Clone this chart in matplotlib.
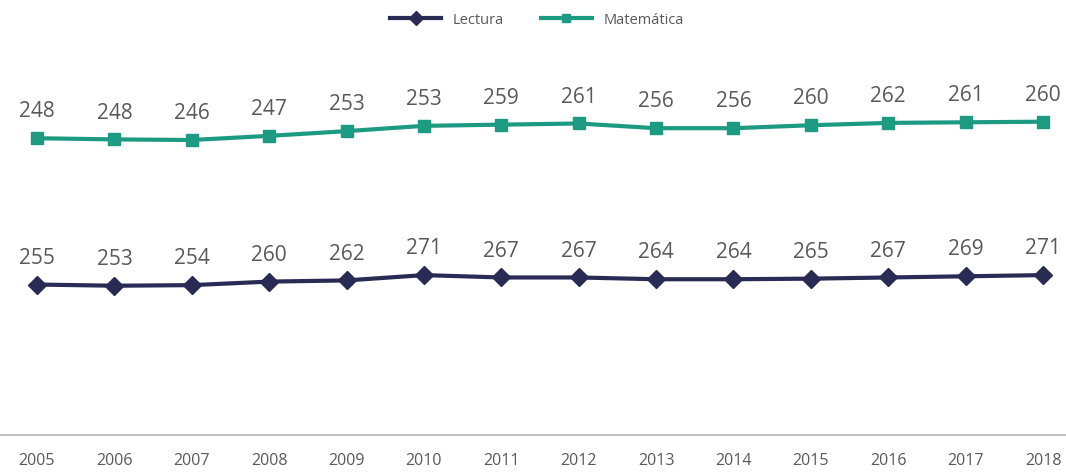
import numpy as np
import matplotlib.pyplot as plt

years = ["2005", "2006", "2007", "2008", "2009", "2010", "2011",
         "2012", "2013", "2014", "2015", "2016", "2017", "2018"]
lectura = [255, 253, 254, 260, 262, 271, 267, 267, 264, 264, 265, 267, 269, 271]
matematica = [248, 248, 246, 247, 253, 253, 259, 261, 256, 256, 260, 262, 261, 260]

plt.rcParams['font.family'] = ['Open Sans', 'DejaVu Sans']

C_LECT = "#2a2b55"
C_MAT = "#1c9a82"
GRAY = "#595959"

fig = plt.figure(figsize=(10.66, 4.74), dpi=100)
ax = fig.add_axes([0, 39 / 474, 1, 354 / 474])

x = np.arange(len(years))
lect = np.array(lectura)
stacked = lect + np.array(matematica)  # stacked line chart

ax.plot(x, lect, "-D", color=C_LECT, lw=3, ms=9, label="Lectura")
ax.plot(x, stacked, "-s", color=C_MAT, lw=3, ms=8, label="Matemática")

for xi, yi, v in zip(x, lect, lectura):
    ax.annotate(str(v), (xi, yi), xytext=(0, 19), textcoords="offset points",
                ha="center", va="center", fontsize=15, color=GRAY)
for xi, yi, v in zip(x, stacked, matematica):
    ax.annotate(str(v), (xi, yi), xytext=(0, 19), textcoords="offset points",
                ha="center", va="center", fontsize=15, color=GRAY)

ax.set_xlim(-37 / 77.4, 13 + 23 / 77.4)
ax.set_ylim(0, 600)
ax.set_xticks(x)
ax.set_xticklabels(years, fontsize=11.5, color=GRAY)
ax.tick_params(axis="x", length=0, pad=13)
ax.set_yticks([])
for s in ["top", "left", "right"]:
    ax.spines[s].set_visible(False)
ax.spines["bottom"].set_color("#bfbfbf")
ax.spines["bottom"].set_linewidth(1.5)

fig.legend(loc="center", bbox_to_anchor=(537 / 1066, 1 - 20 / 474), ncol=2,
           frameon=False, fontsize=10.5, labelcolor=GRAY, handlelength=3.5,
           handletextpad=0.8, columnspacing=2.5, markerscale=0.8)

fig.savefig("out.png", dpi=100)
